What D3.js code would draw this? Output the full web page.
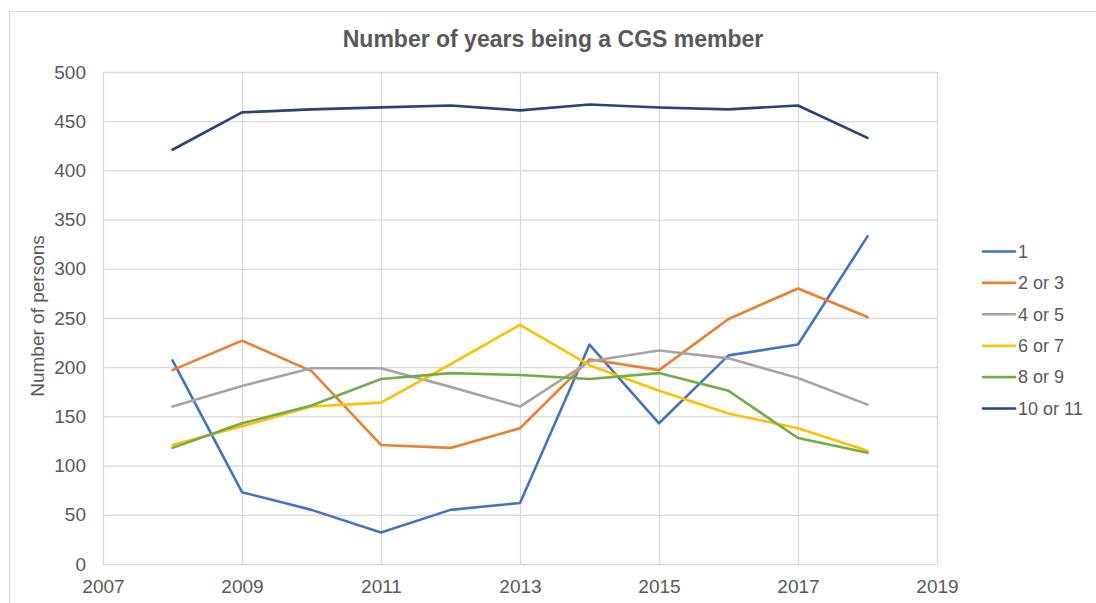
<!DOCTYPE html>
<html>
<head>
<meta charset="utf-8">
<script src="https://cdn.jsdelivr.net/npm/d3@7"></script>
<style>
  body { margin: 0; background: #fff; }
  text { font-family: "Liberation Sans", Arial, sans-serif; fill: #595959; }
</style>
</head>
<body>
<div id="chart"></div>
<script>
const years = [2008, 2009, 2010, 2011, 2012, 2013, 2014, 2015, 2016, 2017, 2018];
const seriesNames = ['1', '2 or 3', '4 or 5', '6 or 7', '8 or 9', '10 or 11'];
const seriesColors = ['#4472C4', '#ED7D31', '#A5A5A5', '#FFC000', '#70AD47', '#264478'];
const values1 = [207, 73, 55, 32, 55, 62, 223, 143, 212, 223, 333];
const values2or3 = [197, 227, 196, 121, 118, 138, 208, 197, 249, 280, 251];
const values4or5 = [160, 181, 199, 199, 180, 160, 206, 217, 209, 189, 162];
const values6or7 = [121, 140, 160, 164, 203, 243, 202, 176, 153, 138, 115];
const values8or9 = [118, 143, 161, 188, 194, 192, 188, 194, 176, 128, 113];
const values10or11 = [421, 459, 462, 464, 466, 461, 467, 464, 462, 466, 433];
const xTicks = [2007, 2009, 2011, 2013, 2015, 2017, 2019];
const yTicks = [0, 50, 100, 150, 200, 250, 300, 350, 400, 450, 500];

const allValues = [values1, values2or3, values4or5, values6or7, values8or9, values10or11];
const series = seriesNames.map((name, i) => ({ name, color: seriesColors[i], values: allValues[i] }));

const width = 1096;
const height = 603;
const plot = { left: 103, right: 937, top: 72, bottom: 564 };

const svg = d3.select('#chart').append('svg')
    .attr('width', width)
    .attr('height', height);

// chart frame
svg.append('rect')
    .attr('x', 9.5)
    .attr('y', 11.5)
    .attr('width', 1200)
    .attr('height', 700)
    .attr('fill', 'none')
    .attr('stroke', '#d9d9d9');

const x = d3.scaleLinear()
    .domain([2007, 2019])
    .range([plot.left, plot.right]);

const y = d3.scaleLinear()
    .domain([0, 500])
    .range([plot.bottom, plot.top]);

// gridlines
svg.append('g')
    .selectAll('line')
    .data(yTicks)
  .enter()
    .append('line')
    .attr('x1', plot.left)
    .attr('x2', plot.right)
    .attr('y1', (d) => y(d) + 0.5)
    .attr('y2', (d) => y(d) + 0.5)
    .attr('stroke', '#d9d9d9')
    .attr('stroke-width', 1.3);

svg.append('g')
    .selectAll('line')
    .data(xTicks)
  .enter()
    .append('line')
    .attr('x1', (d) => x(d) + 0.5)
    .attr('x2', (d) => x(d) + 0.5)
    .attr('y1', plot.top)
    .attr('y2', plot.bottom)
    .attr('stroke', '#d9d9d9')
    .attr('stroke-width', 1.3);

// axes (labels only, Excel-style)
const yAxis = d3.axisLeft(y)
    .tickValues(yTicks)
    .tickSize(0)
    .tickPadding(17);

const xAxis = d3.axisBottom(x)
    .tickValues(xTicks)
    .tickFormat(d3.format('d'))
    .tickSize(0)
    .tickPadding(16);

svg.append('g')
    .attr('transform', `translate(${plot.left},0)`)
    .call(yAxis)
    .call((g) => g.select('.domain').remove())
    .selectAll('text')
    .style('font-size', '19px')
    .attr('fill', '#595959');

svg.append('g')
    .attr('transform', `translate(0,${plot.bottom})`)
    .call(xAxis)
    .call((g) => g.select('.domain').remove())
    .selectAll('text')
    .style('font-size', '19px')
    .attr('fill', '#595959');

// lines
const line = d3.line()
    .x((d, i) => x(years[i]))
    .y((d) => y(d));

svg.append('g')
    .selectAll('path')
    .data(series)
  .enter()
    .append('path')
    .attr('d', (d) => line(d.values))
    .attr('fill', 'none')
    .attr('stroke', (d) => d.color)
    .attr('stroke-width', 2.6)
    .attr('stroke-linejoin', 'round')
    .attr('stroke-linecap', 'round');

// title
svg.append('text')
    .attr('x', 553)
    .attr('y', 47)
    .attr('text-anchor', 'middle')
    .style('font-size', '23px')
    .style('font-weight', 'bold')
    .text('Number of years being a CGS member');

// y axis title
svg.append('text')
    .attr('transform', 'translate(44,316) rotate(-90)')
    .attr('text-anchor', 'middle')
    .style('font-size', '19px')
    .text('Number of persons');

// legend
const legend = svg.append('g')
    .selectAll('g')
    .data(series)
  .enter()
    .append('g')
    .attr('transform', (d, i) => `translate(983,${251.5 + i * 31.4})`);

legend.append('line')
    .attr('x1', 0)
    .attr('x2', 32)
    .attr('stroke', (d) => d.color)
    .attr('stroke-width', 2.6)
    .attr('stroke-linecap', 'round');

legend.append('text')
    .attr('x', 35)
    .attr('dy', '0.35em')
    .style('font-size', '18px')
    .text((d) => d.name);
</script>
</body>
</html>
